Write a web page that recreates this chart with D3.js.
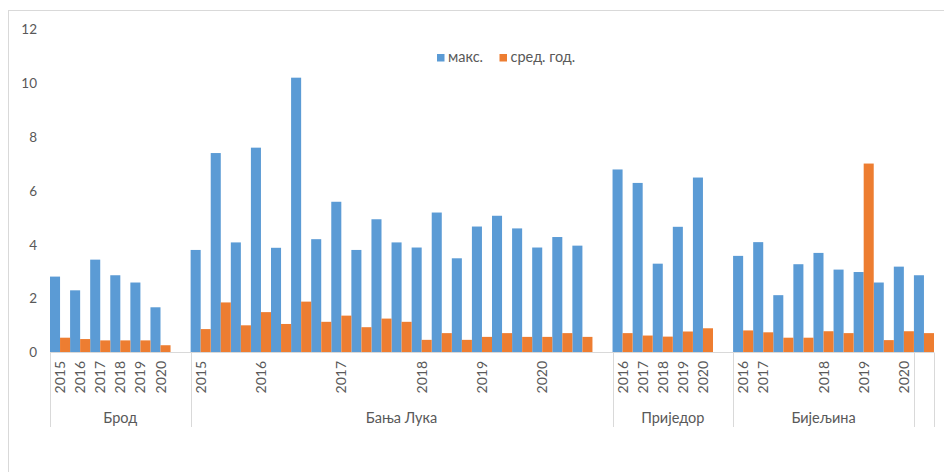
<!DOCTYPE html>
<html>
<head>
<meta charset="utf-8">
<script src="https://cdn.jsdelivr.net/npm/d3@7"></script>
<style>
  html, body { margin: 0; padding: 0; background: #fff; }
  svg { display: block; }
  text { font-family: Lato, "Noto Sans", sans-serif; fill: #595959; }
</style>
</head>
<body>
<svg id="chart" width="944" height="472"></svg>
<script>
// ---- data ----
const groupNames = ["Брод", "Бања Лука", "Приједор", "Бијељина", ""];
const groupSizes = [7, 21, 6, 9, 1];

const yearLabels = [
  // Брод
  "2015", "2016", "2017", "2018", "2019", "2020", "",
  // Бања Лука
  "2015", "", "", "2016", "", "", "", "2017", "", "", "", "2018", "", "", "2019", "", "", "2020", "", "", "",
  // Приједор
  "2016", "2017", "2018", "2019", "2020", "",
  // Бијељина
  "2016", "2017", "", "", "2018", "", "2019", "", "2020",
  // (next group, cut off)
  ""
];

const maxValues = [
  2.82, 2.31, 3.45, 2.87, 2.60, 1.68, null,
  3.81, 7.41, 4.09, 7.61, 3.89, 10.21, 4.21, 5.60, 3.81, 4.95, 4.09, 3.90, 5.20, 3.50, 4.68, 5.08, 4.61, 3.90, 4.29, 3.97, null,
  6.80, 6.30, 3.30, 4.67, 6.50, null,
  3.59, 4.10, 2.13, 3.28, 3.70, 3.08, 2.99, 2.60, 3.19,
  2.87
];

const avgValues = [
  0.55, 0.50, 0.45, 0.45, 0.45, 0.27, null,
  0.87, 1.86, 1.01, 1.50, 1.06, 1.89, 1.14, 1.37, 0.94, 1.26, 1.14, 0.47, 0.72, 0.47, 0.58, 0.72, 0.58, 0.58, 0.72, 0.58, null,
  0.72, 0.63, 0.59, 0.78, 0.90, null,
  0.82, 0.75, 0.55, 0.55, 0.79, 0.72, 7.02, 0.46, 0.79,
  0.72
];

const seriesNames = ["макс.", "сред. год."];
const seriesColors = ["#5B9BD5", "#ED7D31"];
const yTicks = [0, 2, 4, 6, 8, 10, 12];

// ---- layout ----
const svg = d3.select("#chart");
const left = 50, right = 934, baseY = 352.5, topY = 29.5;
const n = yearLabels.length;
const idx = d3.range(n);

const x = d3.scaleBand().domain(idx).range([left, right]).paddingInner(0).paddingOuter(0);
const xs = d3.scaleBand().domain([0, 1]).range([0, x.bandwidth()]).padding(0);
const y = d3.scaleLinear().domain([0, 12]).range([baseY, topY]);

// chart border
svg.append("rect")
  .attr("x", 8.5).attr("y", 10.5).attr("width", 1000).attr("height", 1000)
  .attr("fill", "none").attr("stroke", "#d9d9d9").attr("stroke-width", 1);

// y axis labels
const yAxis = d3.axisLeft(y).tickValues(yTicks).tickSize(0).tickPadding(0);
const gy = svg.append("g").attr("transform", "translate(37,0)").call(yAxis);
gy.select(".domain").remove();
gy.selectAll("text").style("font-size", "13.5px").attr("fill", "#595959")
  .style("font-family", "Lato, 'Noto Sans', sans-serif");

// bars
const seriesData = [maxValues, avgValues];
seriesData.forEach((vals, s) => {
  svg.append("g").selectAll("rect")
    .data(idx.filter(i => vals[i] != null))
    .join("rect")
    .attr("x", i => x(i) + xs(s))
    .attr("width", xs.bandwidth())
    .attr("y", i => y(vals[i]))
    .attr("height", i => y(0) - y(vals[i]))
    .attr("fill", seriesColors[s]);
});

// x axis line
svg.append("line")
  .attr("x1", left).attr("x2", right).attr("y1", baseY).attr("y2", baseY)
  .attr("stroke", "#d9d9d9").attr("stroke-width", 1);

// group separators
const bounds = [0];
groupSizes.forEach(s => bounds.push(bounds[bounds.length - 1] + s));
bounds.forEach(b => {
  const xx = Math.round(b < n ? x(b) : right) + 0.5;
  svg.append("line")
    .attr("x1", xx).attr("x2", xx).attr("y1", baseY).attr("y2", 427)
    .attr("stroke", "#d9d9d9").attr("stroke-width", 1);
});

// year labels (rotated)
svg.append("g").selectAll("text")
  .data(idx.filter(i => yearLabels[i] !== ""))
  .join("text")
  .attr("transform", i => `translate(${x(i) + x.bandwidth() / 2 + 5},361) rotate(-90)`)
  .attr("text-anchor", "end")
  .style("font-size", "14px")
  .text(i => yearLabels[i]);

// group labels
groupNames.forEach((g, k) => {
  if (!g) return;
  const x0 = x(bounds[k]);
  const x1 = bounds[k + 1] < n ? x(bounds[k + 1]) : right;
  svg.append("text")
    .attr("x", (x0 + x1) / 2).attr("y", 423)
    .attr("text-anchor", "middle")
    .style("font-size", "14.5px")
    .text(g);
});

// legend
const legend = svg.append("g");
const legendX = [437, 499.5];
seriesNames.forEach((name, s) => {
  legend.append("rect")
    .attr("x", legendX[s]).attr("y", 54).attr("width", 7.5).attr("height", 7.5)
    .attr("fill", seriesColors[s]);
  legend.append("text")
    .attr("x", legendX[s] + 11).attr("y", 62)
    .style("font-size", "14.5px")
    .text(name);
});
</script>
</body>
</html>
